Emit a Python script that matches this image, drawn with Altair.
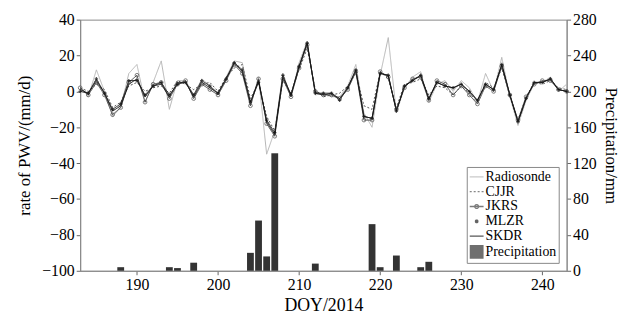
import altair as alt
import pandas as pd

days = list(range(183, 244))

radiosonde = [3, -3, 12, 0, -14, -9, 10, 15, -6, 5, 17, -10, 6, 6, -2, 7, 3, -2, 8, 17,
              16, -8, 8, -35, -22, 10, -3, 16, 28, -2, -1, -3, -3, 3, 15, -12, -20, 9, 30, -12,
              2, 8, 11, -6, 4, 6, 0, 6, 2, -6, 10, 0, 19, -3, -19, -5, 4, 5, 8, 0, 4]
cjjr = [2, 0, 4, 1, -9, -6, 3, 5, 0, 2, 3, -1, 6, 4, 1, 4, 5, 0, 8, 13,
        15, -4, 5, -14, -22, 6, -1, 12, 24, 1, -3, -2, -1, 3, 10, -8, -10, 11, 7, -9,
        4, 5, 7, -2, 3, 2, -2, 3, -1, -6, 5, 2, 13, -3, -16, -3, 5, 4, 6, 2, 1]
jkrs = [2, -2, 5, -2, -13, -9, 5, 9, -6, 4, 5, -4, 4, 6, -4, 4, 1, -2, 6, 15,
        10, -8, 7, -18, -25, 7, -3, 13, 26, 0, -2, -2, -4, 1, 11, -16, -16, 11, 8, -10,
        2, 7, 8, -5, 6, 4, -2, 3, -2, -7, 3, 0, 14, -2, -16, -3, 4, 6, 6, 1, 0]
mlzr = [0, -1, 7, -1, -10, -7, 6, 6, -2, 3, 5, -2, 4, 5, -2, 6, 3, -1, 7, 16,
        12, -6, 5, -16, -23, 9, -2, 14, 27, -1, -1, -1, -5, 2, 12, -14, -15, 10, 9, -11,
        3, 6, 9, -4, 5, 3, 2, 4, 0, -5, 4, 1, 15, -2, -17, -4, 5, 5, 7, 1, 0]
skdr = [1, -1, 6, -1, -11, -8, 4, 7, -3, 3, 4, -3, 5, 5, -3, 5, 2, -1, 7, 16,
        11, -6, 6, -17, -24, 8, -2, 14, 27, -1, -2, -1, -4, 2, 12, -14, -15, 10, 9, -11,
        3, 6, 9, -4, 5, 3, 2, 4, 0, -5, 4, 1, 15, -2, -17, -4, 5, 5, 7, 1, 0]

precip_days = [188, 194, 195, 197, 204, 205, 206, 207, 212, 219, 220, 222, 225, 226]
precip_vals = [4, 4, 3, 9, 20, 56, 16, 131, 8, 52, 4, 17, 4, 10]

series_names = ["Radiosonde", "CJJR", "JKRS", "MLZR", "SKDR", "Precipitation"]
series_colors = ["#b4b4b4", "#555555", "#444444", "#222222", "#111111", "#333333"]
series_dashes = [[1, 0], [2, 2], [1, 0], [1, 0], [1, 0], [1, 0]]

# legend glyphs (unit-square SVG paths)
LINE = "M-1,0L1,0"
LINE_CIRCLE = "M-1,0L1,0M0.28,0A0.28,0.28,0,1,1,-0.28,0A0.28,0.28,0,1,1,0.28,0"
STAR = "M-0.2,-0.2L0.2,0.2M-0.2,0.2L0.2,-0.2M0,-0.26L0,0.26M-0.26,0L0.26,0"
SQUARE = "".join(f"M-1,{y / 10:.1f}H1" for y in range(-9, 10))
series_shapes = [LINE, LINE, LINE_CIRCLE, STAR, LINE, SQUARE]

rows = []
for name, vals in zip(series_names[:5], [radiosonde, cjjr, jkrs, mlzr, skdr]):
    for d, v in zip(days, vals):
        rows.append({"day": d, "rate": v, "series": name})
df_lines = pd.DataFrame(rows)
df_p = pd.DataFrame({"day": precip_days, "precip": precip_vals})
df_leg = pd.DataFrame({"series": series_names, "day": [None] * 6, "rate": [None] * 6})

FONT = "Liberation Serif"
xscale = alt.Scale(domain=[183, 243], nice=False, zero=False)
xaxis = alt.Axis(values=list(range(190, 241, 10)), title="DOY/2014", grid=False,
                 tickSize=4, format="d", titleFontSize=18)
yscale = alt.Scale(domain=[-100, 40], nice=False)
yaxis = alt.Axis(orient="left", values=list(range(-100, 41, 20)),
                 title="rate of PWV/(mm/d)", grid=False, tickSize=4, titlePadding=8)
color_scale = alt.Scale(domain=series_names, range=series_colors)
legend = alt.Legend(title=None, orient="bottom-right", offset=8)

bars = alt.Chart(df_p).transform_calculate(
    x1="datum.day - 0.42", x2="datum.day + 0.42"
).mark_bar(color="#333333").encode(
    x=alt.X("x1:Q", scale=xscale, axis=xaxis),
    x2="x2:Q",
    y=alt.Y("precip:Q", scale=alt.Scale(domain=[0, 280], nice=False),
            axis=alt.Axis(orient="right", values=list(range(0, 281, 40)),
                          title="Precipitation/mm", grid=False, tickSize=4, titlePadding=5)),
    y2=alt.datum(0),
)

lines = alt.Chart(df_lines).mark_line(strokeWidth=1).encode(
    x=alt.X("day:Q", scale=xscale, axis=xaxis),
    y=alt.Y("rate:Q", scale=yscale, axis=yaxis),
    color=alt.Color("series:N", scale=color_scale, legend=legend),
    strokeDash=alt.StrokeDash("series:N", scale=alt.Scale(domain=series_names, range=series_dashes),
                              legend=legend),
)

jk_pts = alt.Chart(df_lines).transform_filter("datum.series == 'JKRS'").mark_point(
    size=14, filled=False, color="#444444", strokeWidth=1
).encode(x=alt.X("day:Q", scale=xscale, axis=xaxis), y=alt.Y("rate:Q", scale=yscale, axis=yaxis))

ml_pts = alt.Chart(df_lines).transform_filter("datum.series == 'MLZR'").mark_point(
    size=12, filled=True, shape="cross", color="#111111"
).encode(x=alt.X("day:Q", scale=xscale, axis=xaxis), y=alt.Y("rate:Q", scale=yscale, axis=yaxis))

leg_layer = alt.Chart(df_leg).transform_filter("isValid(datum.day)").mark_point(
    filled=False
).encode(
    x=alt.X("day:Q", scale=xscale, axis=xaxis),
    y=alt.Y("rate:Q", scale=yscale, axis=yaxis),
    color=alt.Color("series:N", scale=color_scale, legend=legend),
    shape=alt.Shape("series:N", scale=alt.Scale(domain=series_names, range=series_shapes),
                    legend=legend),
)

pwv = alt.layer(lines, jk_pts, ml_pts, leg_layer)

chart = alt.layer(bars, pwv).resolve_scale(
    y="independent"
).properties(
    width=492, height=254, background="white",
    padding={"top": 2, "left": 7, "right": 3, "bottom": 3},
).configure_view(stroke="#888888", strokeWidth=1).configure_axis(
    labelFont=FONT, titleFont=FONT, labelFontSize=16, titleFontSize=17,
    labelFontWeight="normal", titleFontWeight="normal",
    labelColor="black", titleColor="black", domainColor="#888888", tickColor="#666666",
    labelPadding=2,
).configure_legend(
    labelFont=FONT, labelFontSize=14, labelColor="black", strokeColor="#888888",
    fillColor="white", padding=2, rowPadding=0, symbolSize=196, symbolStrokeWidth=1.3,
    labelOffset=1,
)

chart.save("out.html", embed_options={"renderer": "svg", "actions": False})
